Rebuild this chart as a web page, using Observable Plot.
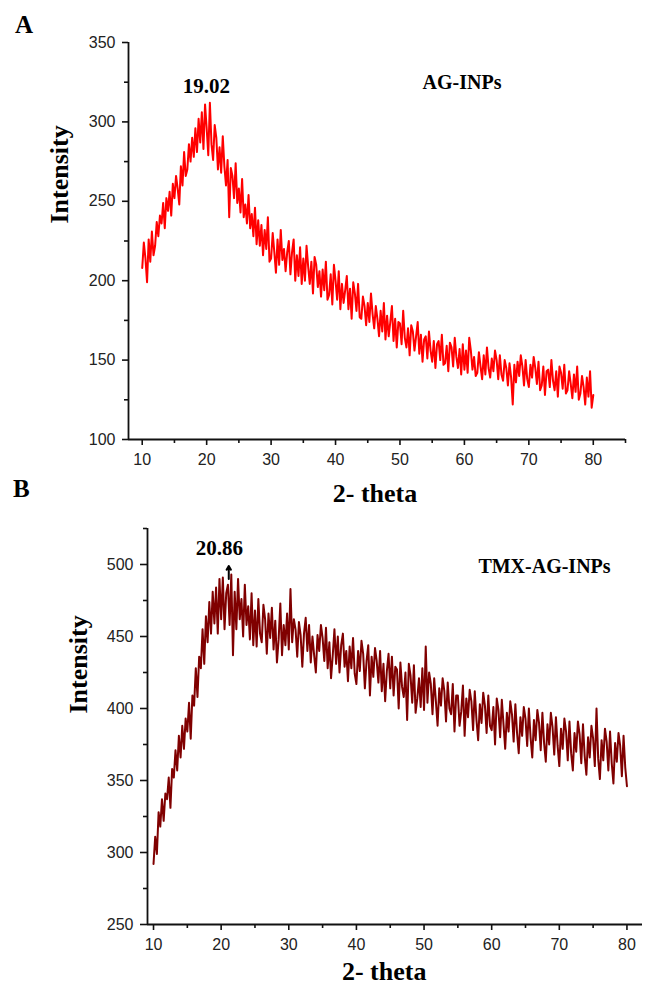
<!DOCTYPE html>
<html>
<head>
<meta charset="utf-8">
<script src="https://cdn.jsdelivr.net/npm/d3@7"></script>
<script src="https://cdn.jsdelivr.net/npm/@observablehq/plot@0.6"></script>
<style>
  body { margin: 0; background: #fff; }
  #wrap { position: relative; width: 645px; height: 984px; overflow: hidden; background: #fff; }
  .panel { position: absolute; left: 0; }
  .tag { position: absolute; font: bold 25px "Liberation Serif", "Times New Roman", serif; line-height: 25px; color: #000; }
</style>
</head>
<body>
<div id="wrap">
  <div id="panelA" class="panel" style="top:0"></div>
  <div id="panelB" class="panel" style="top:505px"></div>
  <div class="tag" style="left:15px;top:12px">A</div>
  <div class="tag" style="left:13px;top:476px">B</div>
</div>
<script>
// ---- data ----
const startAngle = 10;     // 2-theta of first sample (deg)
const angleStep = 0.25;    // sampling step (deg)

// AG-INPs intensity, 10..80 deg
const intensityA = [
  208,224,214,199, 226,212,231,216, 222,237,228,241, 236,249,233,252,
  244,256,241,261, 252,266,258,248, 272,260,281,266, 270,286,275,290,
  278,296,281,302, 287,306,283,311, 296,279,312,286, 276,298,290,270,
  284,268,291,272, 260,276,240,271, 266,252,274,249, 258,243,264,240,
  248,236,254,233, 242,228,246,223, 238,222,235,216, 232,220,240,212,
  214,230,218,205, 226,210,232,213, 220,206,218,225, 204,218,226,200,
  216,203,221,198, 214,200,222,209, 198,212,192,215, 210,196,206,190,
  207,194,212,188, 191,204,185,210, 200,188,206,182, 198,186,194,203,
  182,195,176,199, 192,181,198,177, 176,190,184,172, 186,174,192,179,
  170,184,176,165, 181,168,186,163, 178,165,174,184, 162,176,158,174,
  173,160,181,164, 158,170,153,172, 168,156,165,174, 154,166,149,163,
  165,151,168,156, 149,162,145,160, 162,150,166,147, 148,159,143,161,
  158,146,164,152, 145,157,141,160, 144,156,142,164, 156,144,152,140,
  142,155,146,138, 153,141,158,145, 139,151,143,156, 150,138,153,141,
  137,150,145,134, 148,139,122,147, 136,149,140,153, 146,134,150,138,
  133,147,139,152, 145,135,149,131, 134,146,128,143, 144,133,150,137,
  131,143,127,146, 142,132,147,129, 131,143,135,126, 141,130,146,125,
  129,140,133,122, 139,127,143,120,
  128
];

// TMX-AG-INPs intensity, 10..80 deg
const intensityB = [
  292,311,299,328, 318,337,322,341, 337,352,331,358, 352,371,357,381,
  366,388,372,393, 384,404,379,409, 402,428,408,436, 428,455,431,464,
  446,474,452,481, 459,484,452,490, 462,491,455,480, 486,458,493,437,
  481,455,490,462, 476,450,486,458, 471,448,480,444, 468,443,476,452,
  446,472,462,438, 466,449,470,441, 461,432,448,473, 437,458,444,466,
  441,483,446,462, 455,436,460,451, 429,452,463,440, 458,432,450,437,
  425,451,440,458, 449,433,456,428, 446,421,437,455, 431,450,425,444,
  452,429,440,419, 443,428,449,424, 417,440,426,447, 438,414,433,444,
  409,436,422,442, 433,418,440,412, 431,405,426,438, 414,436,409,429,
  427,400,432,415, 408,425,392,431, 423,404,430,397, 407,421,401,428,
  399,443,404,425, 417,396,421,405, 388,414,402,421, 412,391,418,400,
  396,417,384,409, 409,388,398,416, 381,407,394,413, 405,385,412,392,
  378,403,390,411, 402,383,409,388, 385,401,375,407, 399,380,406,389,
  372,397,384,405, 396,377,403,383, 369,394,381,401, 393,374,400,380,
  366,392,378,399, 390,371,397,376, 363,389,375,397, 387,368,394,374,
  360,386,372,393, 384,364,391,369, 357,383,370,391, 382,362,389,367,
  354,380,366,388, 379,360,400,365, 351,378,364,386, 377,357,384,362,
  348,376,363,383, 374,353,381,359,
  346
];

const seriesNames = ["AG-INPs", "TMX-AG-INPs"];
const peakAngles = [19.02, 20.86];
const peakArrowB = [490, 499];   // arrow from/to intensity in panel B

const xTicksMajor = [10, 20, 30, 40, 50, 60, 70, 80];
const xTicksMinorA = [15, 25, 35, 45, 55, 65, 75, 85];
const xTicksMinorB = [15, 25, 35, 45, 55, 65, 75];
const yTicksMajorA = [100, 150, 200, 250, 300, 350];
const yTicksMinorA = [125, 175, 225, 275, 325];
const yTicksMajorB = [250, 300, 350, 400, 450, 500];
const yTicksMinorB = [275, 325, 375, 425, 475, 525];

const xDomainA = [7.87, 85.0], yDomainA = [100, 350];
const xDomainB = [9.11, 82.3], yDomainB = [250, 525];

// ---- build ----
const toRows = arr => arr.map((v, i) => ({angle: startAngle + i * angleStep, intensity: v}));
const rowsA = toRows(intensityA);
const rowsB = toRows(intensityB);

const serif = "'Liberation Serif','Times New Roman',serif";
const ink = "#111";
const baseStyle = {fontFamily: "'Liberation Sans', Arial, sans-serif", fontSize: "16px", color: ink, background: "#fff", overflow: "visible"};
const bold = {fontFamily: serif, fontWeight: "bold", fill: "#000", lineAnchor: "bottom"};

function axes(xMaj, xMin, yMaj, yMin, xDom, yDom, tick) {
  return [
    Plot.ruleX([xDom[0]], {stroke: ink, strokeWidth: 1.8}),
    Plot.ruleY([yDom[0]], {stroke: ink, strokeWidth: 1.8}),
    Plot.axisX(xMaj, {tickSize: 6, tickPadding: 8, label: null, fontSize: 16, stroke: ink, strokeWidth: 1.6, fill: "#222"}),
    Plot.axisX(xMin, {tickSize: 4, tickFormat: () => "", label: null, stroke: ink, strokeWidth: 1.6}),
    Plot.axisY(yMaj, {tickSize: tick, tickPadding: 7, label: null, fontSize: 16, stroke: ink, strokeWidth: 1.6, fill: "#222"}),
    Plot.axisY(yMin, {tickSize: 4, tickFormat: () => "", label: null, stroke: ink, strokeWidth: 1.6})
  ];
}

const chartA = Plot.plot({
  width: 645, height: 505,
  marginLeft: 128, marginRight: 20, marginTop: 42, marginBottom: 66,
  x: {domain: xDomainA},
  y: {domain: yDomainA},
  style: baseStyle,
  marks: [
    Plot.line(rowsA, {x: "angle", y: "intensity", stroke: "#ff0000", strokeWidth: 2}),
    ...axes(xTicksMajor, xTicksMinorA, yTicksMajorA, yTicksMinorA, xDomainA, yDomainA, 6),
    Plot.text([peakAngles[0]], {x: d => d, text: d => d.toFixed(2), frameAnchor: "top", dx: 6, dy: 50.7, fontSize: 21, ...bold}),
    Plot.text([seriesNames[0]], {frameAnchor: "top", dx: 85, dy: 46, fontSize: 20, ...bold}),
    Plot.text(["Intensity"], {frameAnchor: "left", rotate: -90, dx: -61, dy: -17.5, fontSize: 26, ...bold}),
    Plot.text(["2- theta"], {frameAnchor: "bottom", dx: -2, dy: 62, fontSize: 26, ...bold})
  ]
});
document.getElementById("panelA").appendChild(chartA);

const chartB = Plot.plot({
  width: 645, height: 479,
  marginLeft: 147, marginRight: 3, marginTop: 23, marginBottom: 60,
  x: {domain: xDomainB},
  y: {domain: yDomainB},
  style: baseStyle,
  marks: [
    Plot.line(rowsB, {x: "angle", y: "intensity", stroke: "#800000", strokeWidth: 2}),
    ...axes(xTicksMajor, xTicksMinorB, yTicksMajorB, yTicksMinorB, xDomainB, yDomainB, 7),
    Plot.text([peakAngles[1]], {x: d => d, text: d => d.toFixed(2), frameAnchor: "top", dx: -7.5, dy: 26, fontSize: 21, ...bold}),
    Plot.arrow([peakAngles[1]], {x1: d => d, x2: d => d, y1: peakArrowB[0], y2: peakArrowB[1], dx: 1.8, stroke: "#000", strokeWidth: 2, headLength: 5}),
    Plot.text([seriesNames[1]], {frameAnchor: "top", dx: 149.5, dy: 44, fontSize: 20, ...bold}),
    Plot.text(["Intensity"], {frameAnchor: "left", rotate: -90, dx: -61, dy: -13, fontSize: 26, ...bold}),
    Plot.text(["2- theta"], {frameAnchor: "bottom", dx: -10.8, dy: 55, fontSize: 26, ...bold})
  ]
});
document.getElementById("panelB").appendChild(chartB);
</script>
</body>
</html>
